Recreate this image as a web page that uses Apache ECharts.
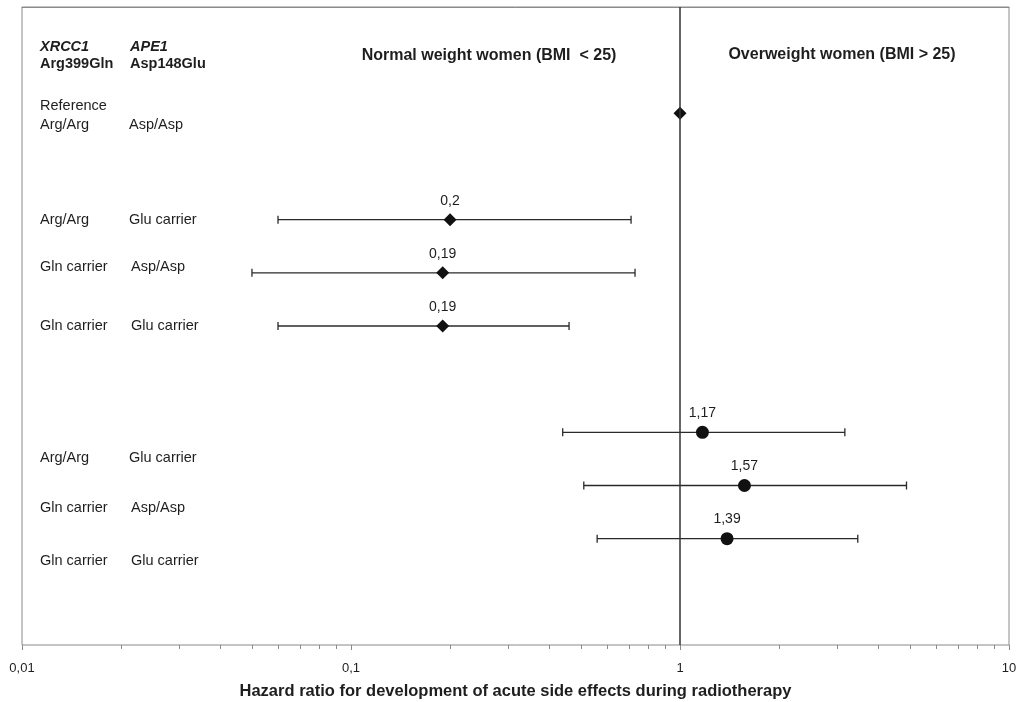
<!DOCTYPE html>
<html>
<head>
<meta charset="utf-8">
<script src="https://cdn.jsdelivr.net/npm/echarts@6/dist/echarts.min.js"></script>
<style>
html,body{margin:0;padding:0;background:#fff;}
#chart{width:1023px;height:702px;}
</style>
</head>
<body>
<div id="chart"></div>
<script>
// ---- data ----
const rowSlots = [2, 4, 5, 6, 8, 9, 10];            // vertical slot of each estimate
const hazardRatios = [1, 0.2, 0.19, 0.19, 1.17, 1.57, 1.39];
const ciLower = [null, 0.06, 0.05, 0.06, 0.44, 0.51, 0.56];
const ciUpper = [null, 0.71, 0.73, 0.46, 3.17, 4.88, 3.47];
const valueLabels = ['', '0,2', '0,19', '0,19', '1,17', '1,57', '1,39'];
const groupOf = ['normal', 'normal', 'normal', 'normal', 'over', 'over', 'over'];
const majorTickValues = [0.01, 0.1, 1, 10];
const minorTickValues = [0.02,0.03,0.04,0.05,0.06,0.07,0.08,0.09,
                         0.2,0.3,0.4,0.5,0.6,0.7,0.8,0.9,
                         2,3,4,5,6,7,8,9];
const geneHeaders = ['XRCC1', 'APE1'];
const variantHeaders = ['Arg399Gln', 'Asp148Glu'];
const groupTitles = ['Normal weight women (BMI  < 25)', 'Overweight women (BMI > 25)'];
const referenceLabel = 'Reference';
const xrcc1Labels = ['Arg/Arg', 'Arg/Arg', 'Gln carrier', 'Gln carrier', 'Arg/Arg', 'Gln carrier', 'Gln carrier'];
const ape1Labels = ['Asp/Asp', 'Glu carrier', 'Asp/Asp', 'Glu carrier', 'Glu carrier', 'Asp/Asp', 'Glu carrier'];
const xAxisTitle = 'Hazard ratio for development of acute side effects during radiotherapy';

// ---- layout (pixels) ----
const labelRowY = [125, 220, 267, 326, 458, 508, 561];
const col2X = [129, 129, 131, 131, 129, 131, 131];

const FONT = '"Liberation Sans", Arial, sans-serif';
const TXT = '#1e1e1e';
const AXIS = '#8a8a8a';

const chart = echarts.init(document.getElementById('chart'));

const diamondData = [], circleData = [], errData = [];
hazardRatios.forEach((v, i) => {
  const item = { value: [v, rowSlots[i]], label: { formatter: valueLabels[i] } };
  if (groupOf[i] === 'normal') diamondData.push(item); else circleData.push(item);
  if (ciLower[i] != null) errData.push([ciLower[i], ciUpper[i], rowSlots[i]]);
});

const graphics = [];
function txt(x, y, text, opts) {
  graphics.push({
    type: 'text', x: x, y: y, silent: true,
    style: Object.assign({ text: text, fill: TXT, font: '14.5px ' + FONT, textVerticalAlign: 'middle' }, opts || {})
  });
}
txt(40, 47, geneHeaders[0], { font: 'italic bold 14.5px ' + FONT });
txt(130, 47, geneHeaders[1], { font: 'italic bold 14.5px ' + FONT });
txt(40, 64, variantHeaders[0], { font: 'bold 14.5px ' + FONT });
txt(130, 64, variantHeaders[1], { font: 'bold 14.5px ' + FONT });
txt(489, 56, groupTitles[0], { font: 'bold 16px ' + FONT, textAlign: 'center' });
txt(842, 55, groupTitles[1], { font: 'bold 16px ' + FONT, textAlign: 'center' });
txt(40, 106, referenceLabel);
xrcc1Labels.forEach((t, i) => txt(40, labelRowY[i], t));
ape1Labels.forEach((t, i) => txt(col2X[i], labelRowY[i], t));

const option = {
  animation: false,
  backgroundColor: '#fff',
  grid: { left: 22, right: 14, top: 7, bottom: 57, show: true, borderColor: AXIS, borderWidth: 1,
          outerBoundsMode: 'none', containLabel: false },
  xAxis: {
    type: 'log', logBase: 10, min: 0.01, max: 10,
    name: xAxisTitle, nameLocation: 'middle', nameGap: 38,
    nameTextStyle: { fontFamily: FONT, fontWeight: 'bold', fontSize: 16.5, color: TXT },
    axisLine: { show: true, lineStyle: { color: AXIS, width: 1 } },
    axisTick: { show: false },
    axisLabel: {
      fontFamily: FONT, fontSize: 13, color: TXT, margin: 17,
      formatter: v => String(parseFloat(Number(v).toPrecision(3))).replace('.', ',')
    },
    splitLine: { show: false }
  },
  yAxis: { type: 'value', min: 0, max: 12, inverse: true, show: false },
  graphic: graphics,
  series: [
    {
      type: 'custom', name: 'ticks', silent: true, clip: false,
      data: majorTickValues.map(v => [v, 12, 5]).concat(minorTickValues.map(v => [v, 12, 4])),
      encode: { x: 0, y: 1 },
      renderItem: (params, api) => {
        const p = api.coord([api.value(0), api.value(1)]);
        const x = Math.round(p[0]) + 0.5;
        return { type: 'line', shape: { x1: x, y1: p[1], x2: x, y2: p[1] + api.value(2) },
                 style: { stroke: AXIS, lineWidth: 1 } };
      },
      z: 1
    },
    {
      type: 'custom', name: 'ci', silent: true,
      data: errData,
      encode: { x: [0, 1], y: 2 },
      renderItem: (params, api) => {
        const y = api.value(2);
        const a = api.coord([api.value(0), y]);
        const b = api.coord([api.value(1), y]);
        const st = { stroke: '#2a2a2a', lineWidth: 1.3 };
        return { type: 'group', children: [
          { type: 'line', shape: { x1: a[0], y1: a[1], x2: b[0], y2: b[1] }, style: st },
          { type: 'line', shape: { x1: a[0], y1: a[1] - 4, x2: a[0], y2: a[1] + 4 }, style: st },
          { type: 'line', shape: { x1: b[0], y1: b[1] - 4, x2: b[0], y2: b[1] + 4 }, style: st }
        ] };
      },
      z: 2
    },
    {
      type: 'scatter', name: 'normal', symbol: 'diamond', symbolSize: 13,
      itemStyle: { color: '#111', opacity: 1 },
      label: { show: true, position: 'top', distance: 5, fontFamily: FONT, fontSize: 14, color: TXT },
      data: diamondData,
      markLine: {
        silent: true, symbol: 'none', label: { show: false },
        lineStyle: { color: '#333', width: 1.5, type: 'solid', opacity: 1 },
        data: [{ xAxis: 1 }]
      },
      z: 3
    },
    {
      type: 'scatter', name: 'overweight', symbol: 'circle', symbolSize: 13,
      itemStyle: { color: '#111', opacity: 1 },
      label: { show: true, position: 'top', distance: 6, fontFamily: FONT, fontSize: 14, color: TXT },
      data: circleData,
      z: 3
    }
  ]
};
chart.setOption(option);
</script>
</body>
</html>
